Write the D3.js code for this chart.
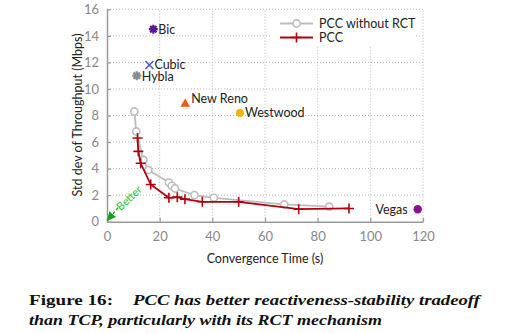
<!DOCTYPE html>
<html>
<head>
<meta charset="utf-8">
<script src="https://cdn.jsdelivr.net/npm/d3@7"></script>
<style>
  html, body { margin: 0; padding: 0; background: #fff; }
  svg { display: block; }
  .tick text { font-family: Lato, sans-serif; }
</style>
</head>
<body>
<svg id="chart" width="505" height="333"></svg>
<script>
// PCC without RCT (grey, open circles)
var noRctX = [10.4, 11.1, 13.8, 15.7, 23.5, 24.6, 25.8, 33.2, 40.6, 67.3, 84.4];
var noRctY = [8.3, 6.8, 4.65, 3.9, 2.95, 2.7, 2.5, 2.0, 1.8, 1.3, 1.13];

// PCC (red, crosses)
var pccX = [11.6, 11.9, 12.8, 16.6, 23.5, 26.7, 29.6, 36.2, 50.0, 72.8, 91.9];
var pccY = [6.3, 5.3, 4.4, 2.8, 1.8, 1.85, 1.7, 1.5, 1.5, 0.94, 1.0];

// TCP variants, one point each
var tcpNames = ["Bic", "Cubic", "Hybla", "New Reno", "Westwood", "Vegas"];
var tcpX = [17.6, 16.1, 11.3, 29.7, 50.5, 118];
var tcpY = [14.5, 11.8, 11.0, 8.9, 8.2, 0.94];

var xTicks = [0, 20, 40, 60, 80, 100, 120];
var yTicks = [0, 2, 4, 6, 8, 10, 12, 14, 16];

var svg = d3.select("#chart");

var x = d3.scaleLinear().domain([0, 120]).range([107, 423]);
var y = d3.scaleLinear().domain([0, 16]).range([221.7, 9.3]);

// dotted grid
var grid = svg.append("g")
    .attr("stroke", "#b8b8b8")
    .attr("stroke-width", 1)
    .attr("stroke-dasharray", "1,2");
grid.selectAll("line.gx").data(xTicks.slice(1)).enter().append("line")
    .attr("x1", function(d) { return x(d); }).attr("x2", function(d) { return x(d); })
    .attr("y1", y(0)).attr("y2", y(16));
grid.selectAll("line.gy").data(yTicks.slice(1)).enter().append("line")
    .attr("y1", function(d) { return y(d); }).attr("y2", function(d) { return y(d); })
    .attr("x1", x(0)).attr("x2", x(120));

// axes: ticks point inward
var xAxis = svg.append("g")
    .attr("transform", "translate(0," + y(0) + ")")
    .call(d3.axisBottom(x).tickValues(xTicks).tickSizeInner(-4).tickSizeOuter(0).tickPadding(10));
var yAxis = svg.append("g")
    .attr("transform", "translate(" + x(0) + ",0)")
    .call(d3.axisLeft(y).tickValues(yTicks).tickSizeInner(-4).tickSizeOuter(0).tickPadding(8));
[xAxis, yAxis].forEach(function(a) {
    a.select(".domain").attr("stroke", "#999").attr("stroke-width", 1.5);
    a.selectAll(".tick line").attr("stroke", "#999").attr("stroke-width", 1.2);
    a.selectAll(".tick text").attr("fill", "#888").attr("font-size", 13);
});

svg.append("text")
    .attr("x", 265).attr("y", 263)
    .attr("text-anchor", "middle")
    .attr("font-family", "Lato, sans-serif").attr("font-size", 12.5)
    .attr("fill", "#222")
    .text("Convergence Time (s)");
svg.append("text")
    .attr("transform", "translate(82,115) rotate(-90)")
    .attr("text-anchor", "middle")
    .attr("font-family", "Lato, sans-serif").attr("font-size", 12.5)
    .attr("fill", "#222")
    .text("Std dev of Throughput (Mbps)");

// "Better" arrow toward the origin, dashed stub then the word along it
var defs = svg.append("defs");
defs.append("marker").attr("id", "arr")
    .attr("viewBox", "0 0 10 10").attr("refX", 9).attr("refY", 5)
    .attr("markerWidth", 7).attr("markerHeight", 7).attr("orient", "auto")
    .append("path").attr("d", "M0,0L10,5L0,10z").attr("fill", "#1a9e1a");
svg.append("line")
    .attr("x1", x(4.2)).attr("y1", y(1.05))
    .attr("x2", x(0.2)).attr("y2", y(0.1))
    .attr("stroke", "#1a9e1a").attr("stroke-width", 1.3)
    .attr("stroke-dasharray", "3,2")
    .attr("marker-end", "url(#arr)");
svg.append("text")
    .attr("transform", "translate(" + x(8.4) + "," + y(1.78) + ") rotate(-43)")
    .attr("text-anchor", "middle").attr("dy", "0.35em")
    .attr("font-family", "Lato, sans-serif").attr("font-size", 11)
    .attr("fill", "#2ec02e")
    .text("Better");

// series lines
var noRct = noRctX.map(function(v, i) { return [v, noRctY[i]]; });
var pcc = pccX.map(function(v, i) { return [v, pccY[i]]; });
var line = d3.line().x(function(d) { return x(d[0]); }).y(function(d) { return y(d[1]); });

var grey = "#bdbdbd", red = "#b00010";

svg.append("path").datum(noRct).attr("d", line)
    .attr("fill", "none").attr("stroke", grey).attr("stroke-width", 1.8);
svg.selectAll("circle.nr").data(noRct).enter().append("circle")
    .attr("cx", function(d) { return x(d[0]); }).attr("cy", function(d) { return y(d[1]); })
    .attr("r", 3.6).attr("fill", "#fff").attr("stroke", grey).attr("stroke-width", 1.6);

svg.append("path").datum(pcc).attr("d", line)
    .attr("fill", "none").attr("stroke", red).attr("stroke-width", 1.8);
function cross(sel, cx, cy, s) {
    sel.append("path")
        .attr("d", "M" + (cx - s) + "," + cy + "H" + (cx + s) + "M" + cx + "," + (cy - s) + "V" + (cy + s))
        .attr("stroke", red).attr("stroke-width", 1.6).attr("fill", "none");
}
pcc.forEach(function(d) { cross(svg, x(d[0]), y(d[1]), 5); });

// TCP points
var tg = svg.append("g");
function star(cx, cy, col) {
    var s = 4.5, path = "";
    for (var k = 0; k < 4; k++) {
        var a = k * Math.PI / 4;
        path += "M" + (cx - s * Math.cos(a)) + "," + (cy - s * Math.sin(a)) +
                "L" + (cx + s * Math.cos(a)) + "," + (cy + s * Math.sin(a));
    }
    tg.append("path").attr("d", path).attr("stroke", col).attr("stroke-width", 2.2);
}
function xmark(cx, cy, col) {
    var s = 4;
    tg.append("path")
        .attr("d", "M" + (cx - s) + "," + (cy - s) + "L" + (cx + s) + "," + (cy + s) +
                   "M" + (cx - s) + "," + (cy + s) + "L" + (cx + s) + "," + (cy - s))
        .attr("stroke", col).attr("stroke-width", 1.6);
}
star(x(tcpX[0]), y(tcpY[0]), "#5a1690");
xmark(x(tcpX[1]), y(tcpY[1]), "#4f56d8");
star(x(tcpX[2]), y(tcpY[2]), "#8c8c8c");
tg.append("path")
    .attr("d", d3.symbol().type(d3.symbolTriangle).size(40)())
    .attr("transform", "translate(" + x(tcpX[3]) + "," + (y(tcpY[3]) + 0.5) + ")")
    .attr("fill", "#f05a0a");
tg.append("circle").attr("cx", x(tcpX[4])).attr("cy", y(tcpY[4])).attr("r", 4.2).attr("fill", "#f6b40e");
tg.append("circle").attr("cx", x(tcpX[5])).attr("cy", y(tcpY[5])).attr("r", 4.2).attr("fill", "#8e108e");

// labels: dx/dy offsets from each marker, anchor
var labDx = [5, 5, 5, 6, 5, -10];
var labDy = [0, -0.5, 0.5, -5, 0, 0];
var labAnchor = ["start", "start", "start", "start", "start", "end"];
tg.selectAll("text").data(tcpNames).enter().append("text")
    .attr("x", function(d, i) { return x(tcpX[i]) + labDx[i]; })
    .attr("y", function(d, i) { return y(tcpY[i]) + labDy[i]; })
    .attr("dy", "0.35em")
    .attr("text-anchor", function(d, i) { return labAnchor[i]; })
    .attr("font-family", "Lato, sans-serif").attr("font-size", 12.5)
    .attr("fill", "#222")
    .text(function(d) { return d; });

// legend
var lg = svg.append("g");
lg.append("rect").attr("x", 272).attr("y", 11).attr("width", 142).attr("height", 35).attr("fill", "#fff");
var legNames = ["PCC without RCT", "PCC"];
var legY = [23.5, 37.5];
lg.append("line").attr("x1", 280).attr("x2", 313).attr("y1", legY[0]).attr("y2", legY[0])
    .attr("stroke", grey).attr("stroke-width", 1.8);
lg.append("circle").attr("cx", 296.5).attr("cy", legY[0]).attr("r", 3.6)
    .attr("fill", "#fff").attr("stroke", grey).attr("stroke-width", 1.6);
lg.append("line").attr("x1", 280).attr("x2", 313).attr("y1", legY[1]).attr("y2", legY[1])
    .attr("stroke", red).attr("stroke-width", 1.8);
cross(lg, 296.5, legY[1], 5);
lg.selectAll("text").data(legNames).enter().append("text")
    .attr("x", 319).attr("y", function(d, i) { return legY[i]; }).attr("dy", "0.35em")
    .attr("font-family", "Lato, sans-serif").attr("font-size", 12.5)
    .attr("fill", "#222")
    .text(function(d) { return d; });

// caption, set wide like the paper's justified text
var cap = svg.append("g").attr("font-family", "'Liberation Serif', 'Times New Roman', serif")
    .attr("font-size", 15).attr("font-weight", "bold").attr("fill", "#111");
cap.append("text").attr("x", 29).attr("y", 305)
    .attr("textLength", 84).attr("lengthAdjust", "spacingAndGlyphs")
    .text("Figure 16:");
cap.append("text").attr("x", 133).attr("y", 305).attr("font-style", "italic")
    .attr("textLength", 347).attr("lengthAdjust", "spacingAndGlyphs")
    .text("PCC has better reactiveness-stability tradeoff");
cap.append("text").attr("x", 29).attr("y", 325).attr("font-style", "italic")
    .attr("textLength", 353).attr("lengthAdjust", "spacingAndGlyphs")
    .text("than TCP, particularly with its RCT mechanism");
</script>
</body>
</html>
